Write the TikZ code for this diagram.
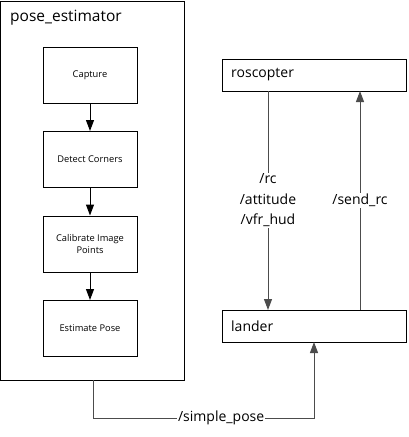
\documentclass[tikz,border=0pt]{standalone}
\usepackage{fontspec}
\setmainfont{Open Sans}
\usetikzlibrary{arrows.meta,positioning}
\begin{document}
\begin{tikzpicture}[x=1pt,y=-1pt,
  every node/.style={font=\fontsize{14}{17}\selectfont},
  outer/.style={draw=black,line width=1pt},
  stepbox/.style={draw=black,line width=1pt,minimum width=94pt,minimum height=56pt,inner sep=0pt,font=\fontsize{9.3}{12.5}\selectfont,align=center},
  topicbox/.style={draw=black,line width=1pt,minimum width=184pt,minimum height=32pt,inner sep=0pt},
  conn/.style={draw=black!70,line width=1pt},
  arr/.style={conn,-{Triangle[length=11pt,width=8pt]}},
  darr/.style={draw=black,line width=1pt,-{Triangle[length=11pt,width=8pt]}},
  lbl/.style={fill=white,inner sep=1pt,align=center,font=\fontsize{14}{20.5}\selectfont}]
\useasboundingbox (0,0) rectangle (408,437);
\fill[white] (0,0) rectangle (408,437);
% outer pose_estimator box
\node[outer,minimum width=184pt,minimum height=379pt,inner sep=0pt] (pe) at (92.5,190.5) {};
\node[anchor=west,inner sep=0pt,font=\fontsize{15.5}{18}\selectfont] (pet) at (10,18) {pose\_estimator};
% steps
\node[stepbox] (cap) at (90,75) {Capture};
\node[stepbox] (det) at (90,159.5) {Detect Corners};
\node[stepbox] (cal) at (90,244) {Calibrate Image\\[-1pt]Points};
\node[stepbox] (est) at (90,328.5) {Estimate Pose};
\draw[darr] (cap) -- (det);
\draw[darr] (det) -- (cal);
\draw[darr] (cal) -- (est);
% right boxes
\node[topicbox] (ros) at (314,75) {};
\node[anchor=west,inner sep=0pt] (rost) at (231,75) {roscopter};
\node[topicbox] (lan) at (314,326) {};
\node[anchor=west,inner sep=0pt] (lant) at (231,326) {lander};
% connectors
\coordinate (rosL) at (268,91);
\coordinate (lanL) at (268,310);
\coordinate (rosR) at (360,91);
\coordinate (lanR) at (360,310);
\draw[arr] (rosL) -- node[lbl,pos=0.5] {/rc\\/attitude\\/vfr\_hud} (lanL);
\draw[arr] (lanR) -- node[lbl,pos=0.5] {/send\_rc} (rosR);
\coordinate (peB) at (93,380);
\coordinate (c1) at (93,418);
\coordinate (c2) at (314,418);
\coordinate (lanB) at (314,342);
\draw[arr] (peB) -- (c1) -- node[lbl,pos=0.58] {/simple\_pose} (c2) -- (lanB);
\end{tikzpicture}
\end{document}
